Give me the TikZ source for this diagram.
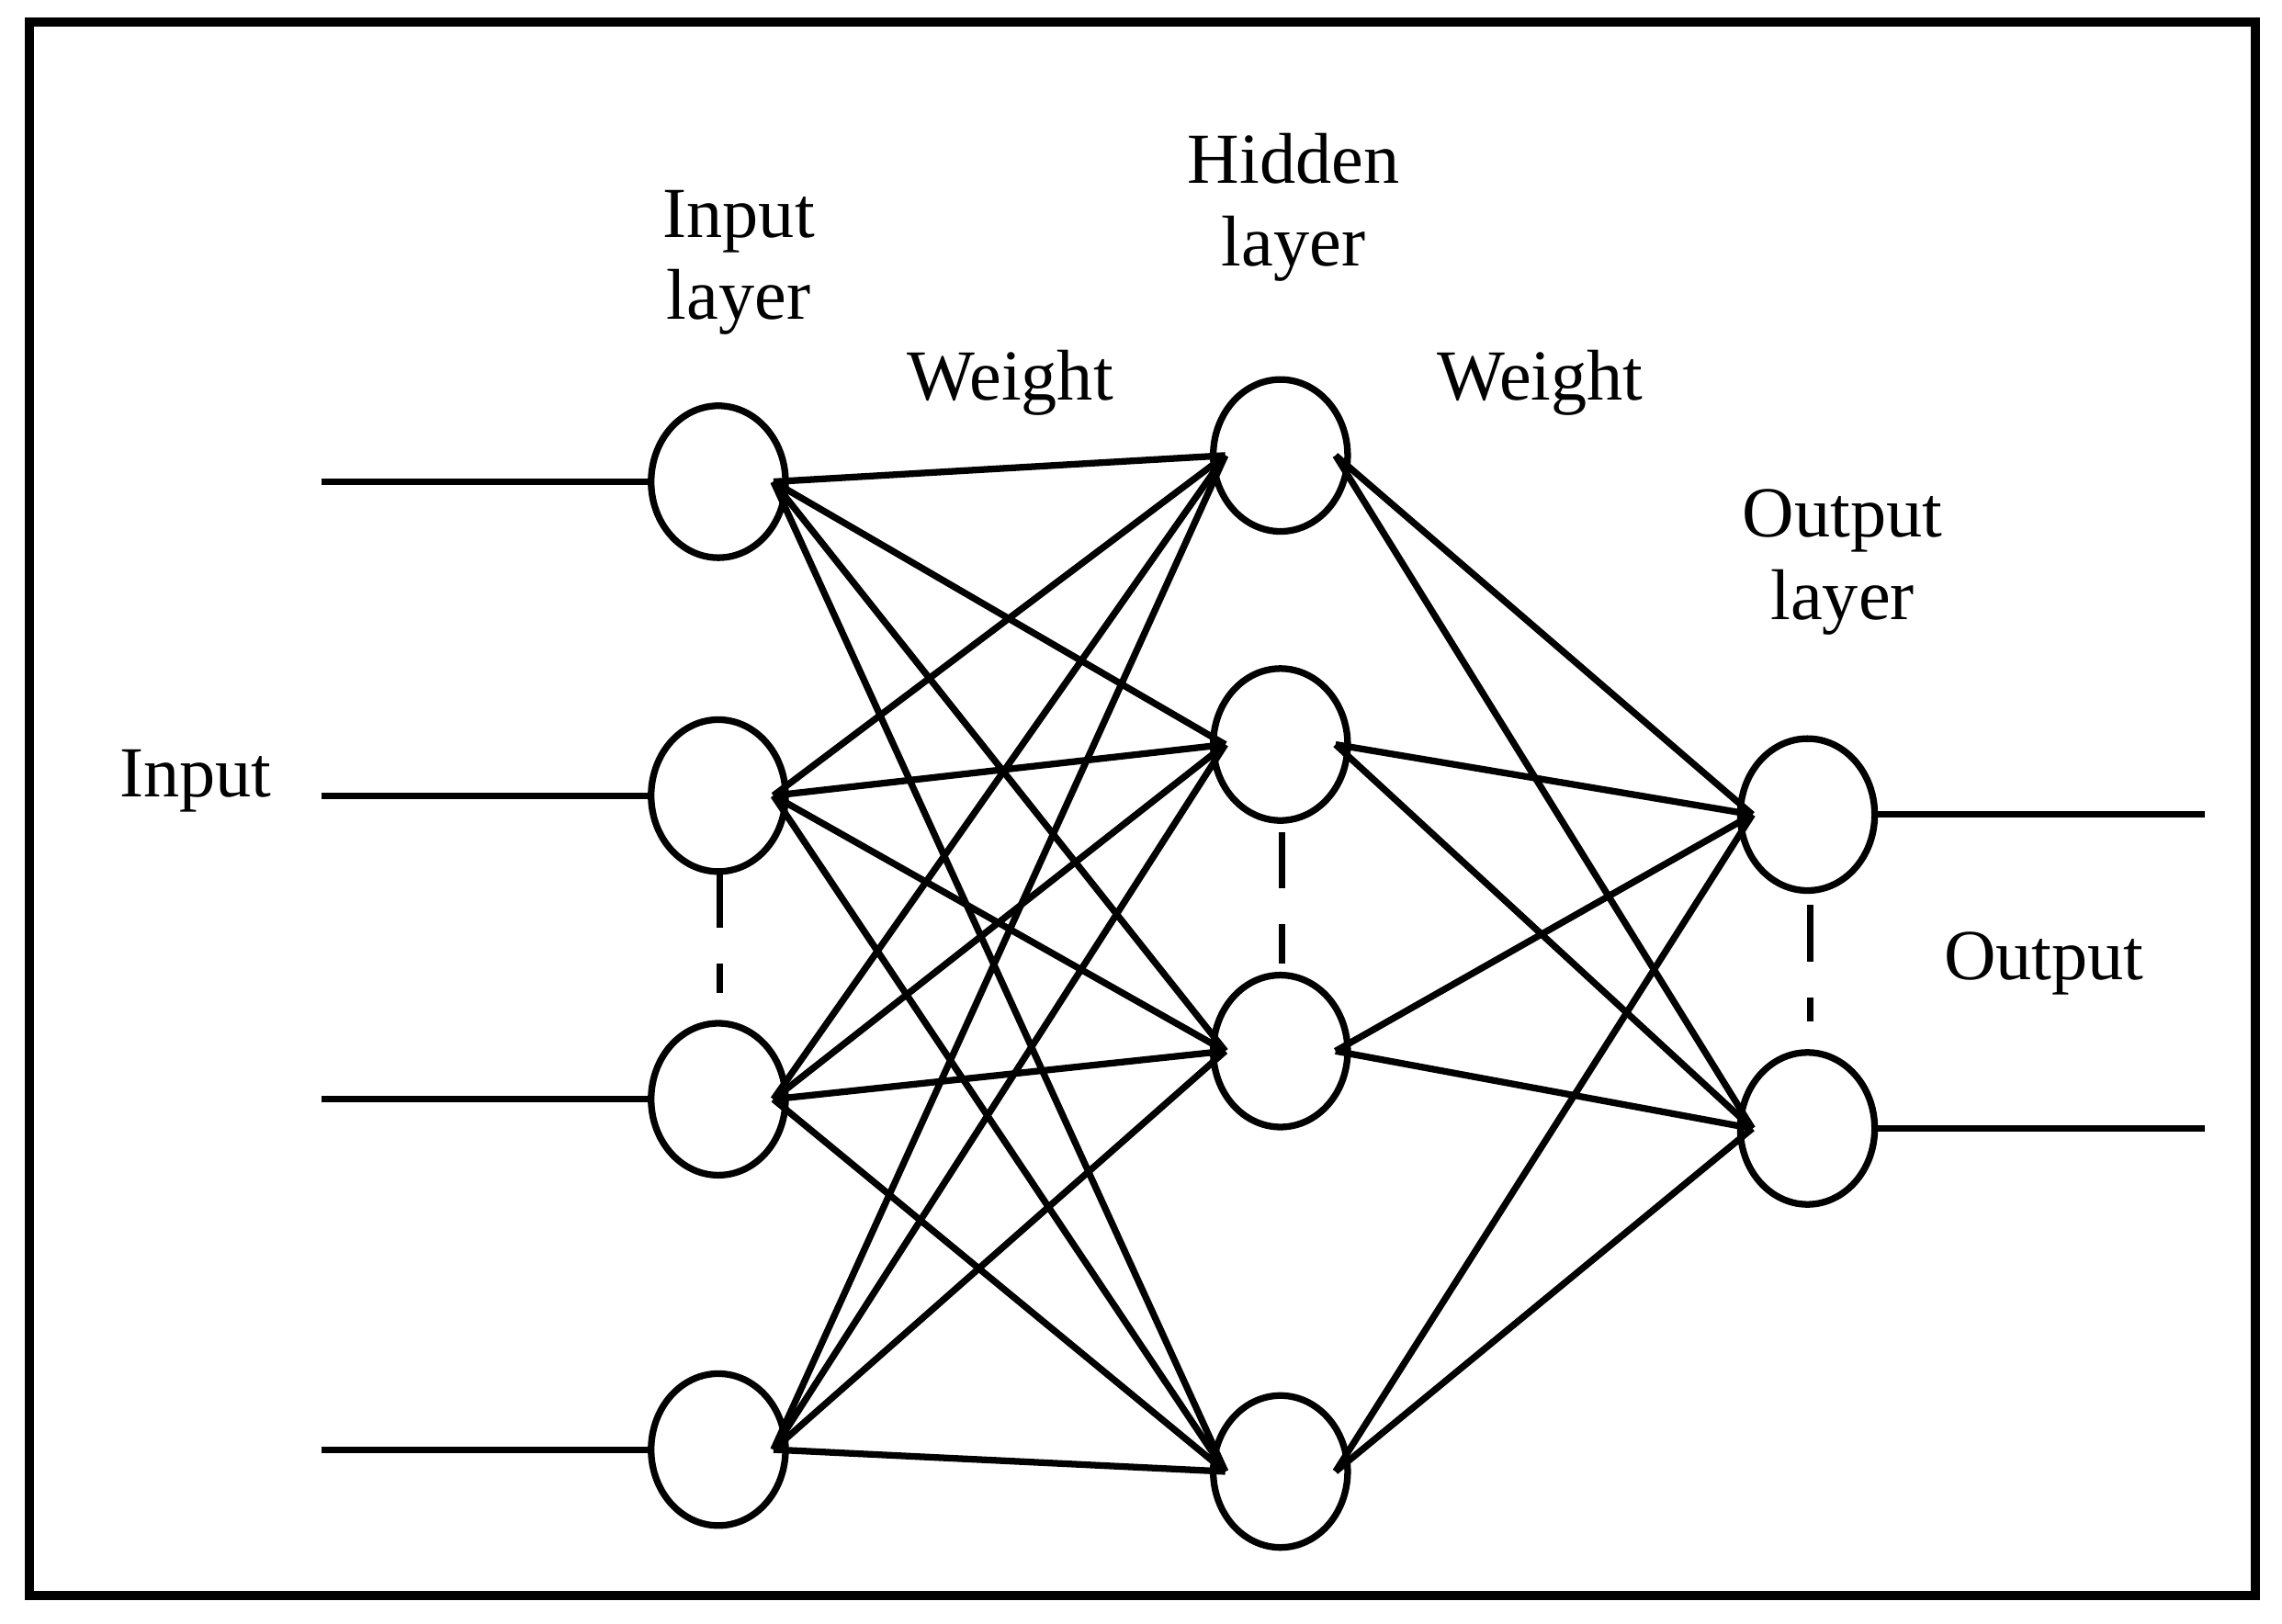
\documentclass[tikz,border=0pt]{standalone}
\usepackage{fontspec}
\setmainfont{Liberation Serif}
\usetikzlibrary{shapes.geometric}
\begin{document}
\begin{tikzpicture}[x=0.01cm,y=-0.01cm,
  neuron/.style={draw,line width=1.3pt,ellipse,minimum width=0.92cm,minimum height=1.04cm,inner sep=0pt},
  conn/.style={line width=1.3pt},
  dsh/.style={line width=1.3pt,dash pattern=on 11pt off 7pt},
  lbl/.style={font=\fontsize{14}{16}\selectfont,align=center}]
\useasboundingbox (0,0) rectangle (1563,1112);
\draw[line width=1.8pt] (20,15) rectangle (1545,1093);
\foreach \i/\y in {1/330,2/545,3/753,4/993} \node[neuron] (i\i) at (492,\y) {};
\foreach \j/\y in {1/312,2/510,3/720,4/1008} \node[neuron] (h\j) at (877,\y) {};
\foreach \k/\y in {1/558,2/773} \node[neuron] (o\k) at (1238,\y) {};
\foreach \i/\y in {1/330,2/545,3/753,4/993} {\coordinate (s\i) at (220,\y); \draw[conn] (s\i) -- (i\i.west);}
\foreach \k/\y in {1/558,2/773} {\coordinate (e\k) at (1510,\y); \draw[conn] (o\k.east) -- (e\k);}
\foreach \i in {1,...,4} \foreach \j in {1,...,4} \draw[conn] ([xshift=-3pt]i\i.east) -- ([xshift=3pt]h\j.west);
\foreach \j in {1,...,4} \foreach \k in {1,2} \draw[conn] ([xshift=-3pt]h\j.east) -- ([xshift=3pt]o\k.west);
\coordinate (d1a) at (493,597); \coordinate (d1b) at (493,680);
\coordinate (d2a) at (878,570); \coordinate (d2b) at (878,660);
\coordinate (d3a) at (1240,620); \coordinate (d3b) at (1240,700);
\draw[dsh] (d1a) -- (d1b);
\draw[dsh] (d2a) -- (d2b);
\draw[dsh] (d3a) -- (d3b);
\node[lbl] (t1) at (506,180) {Input\\layer};
\node[lbl] (t2) at (886,142) {Hidden\\layer};
\node[lbl] (t3) at (692,262) {Weight};
\node[lbl] (t4) at (1055,262) {Weight};
\node[lbl] (t5) at (1262,385) {Output\\layer};
\node[lbl] (t6) at (134,535) {Input};
\node[lbl] (t7) at (1400,660) {Output};
\end{tikzpicture}
\end{document}
